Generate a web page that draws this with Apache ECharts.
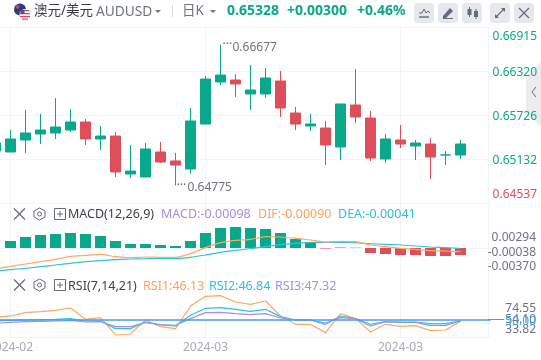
<!DOCTYPE html>
<html>
<head>
<meta charset="utf-8">
<style>
html,body{margin:0;padding:0;background:#fff;overflow:hidden}
#chart{width:541px;height:360px}
</style>
<script src="https://cdn.jsdelivr.net/npm/echarts@6/dist/echarts.min.js"></script>
</head>
<body>
<div id="chart"></div>
<script>
var xCategories = ['2024-02-12','2024-02-13','2024-02-14','2024-02-15','2024-02-16','2024-02-19','2024-02-20','2024-02-21','2024-02-22','2024-02-23','2024-02-26','2024-02-27','2024-02-28','2024-02-29','2024-03-01','2024-03-04','2024-03-05','2024-03-06','2024-03-07','2024-03-08','2024-03-11','2024-03-12','2024-03-13','2024-03-14','2024-03-15','2024-03-18','2024-03-19','2024-03-20','2024-03-21','2024-03-22','2024-03-25','2024-03-26','2024-03-27','2024-03-28'];
var markedIndexes = [1, 14, 27];

// open, close, low, high
var candles = [
    [0.65240,0.65348,0.65240,0.65348],[0.65226,0.65402,0.65226,0.65523],[0.65388,0.65483,0.65213,0.65794],
    [0.65469,0.65523,0.65334,0.65740],[0.65483,0.65564,0.65402,0.65956],[0.65523,0.65631,0.65496,0.65807],
    [0.65631,0.65402,0.65321,0.65672],[0.65402,0.65442,0.65253,0.65577],[0.65442,0.64956,0.64888,0.65496],
    [0.64929,0.64969,0.64875,0.65321],[0.64888,0.65267,0.64888,0.65348],[0.65226,0.65091,0.65078,0.65361],
    [0.65105,0.65050,0.64775,0.65213],[0.64996,0.65645,0.64929,0.65821],[0.65604,0.66212,0.65604,0.66253],
    [0.66172,0.66266,0.66131,0.66677],[0.66199,0.66145,0.65969,0.66280],[0.66010,0.66064,0.65794,0.66402],
    [0.66010,0.66226,0.65956,0.66361],[0.66185,0.65821,0.65699,0.66321],[0.65753,0.65604,0.65523,0.65834],
    [0.65577,0.65604,0.65510,0.65740],[0.65550,0.65321,0.65050,0.65645],[0.65294,0.65875,0.65118,0.65875],
    [0.65861,0.65699,0.65618,0.66348],[0.65685,0.65145,0.65105,0.65780],[0.65132,0.65402,0.65078,0.65469],
    [0.65388,0.65334,0.65280,0.65591],[0.65307,0.65348,0.65118,0.65388],[0.65334,0.65159,0.64861,0.65415],
    [0.65186,0.65187,0.65050,0.65240],[0.65186,0.65334,0.65132,0.65388]
];
var macdBars = [null,0.00164,0.00257,0.00304,0.00328,0.00351,0.00328,0.00281,0.00164,0.00094,0.00094,0.0007,0.00047,0.00164,0.00351,0.00468,0.00491,0.00468,0.00445,0.00351,0.00211,0.0014,-0.00012,0.00012,0.00007,-0.00117,-0.0014,-0.00164,-0.00164,-0.00187,-0.00187,-0.00164];
var difLine = [-0.00491,-0.00429,-0.00374,-0.0032,-0.00265,-0.00195,-0.00172,-0.00148,-0.00203,-0.00226,-0.00211,-0.00218,-0.00218,-0.00133,0.00008,0.00125,0.00179,0.00203,0.00265,0.00257,0.00226,0.00187,0.0014,0.00156,0.00148,0.0007,0.00031,-0.00008,-0.00031,-0.00062,-0.0007,-0.00086];
var deaLine = [-0.00538,-0.00507,-0.00476,-0.00437,-0.00398,-0.00359,-0.0032,-0.00296,-0.00273,-0.00257,-0.0025,-0.00242,-0.00242,-0.00218,-0.00164,-0.00101,-0.00055,-0.00016,0.00031,0.00078,0.00109,0.00133,0.00133,0.00133,0.00125,0.00101,0.00086,0.0007,0.00047,0.00023,0.00008,-0.00008];
var rsi1 = [53.75,56.26,62.51,64.39,66.89,71.27,50,53.13,20.59,22.47,48.75,36.23,32.48,75.03,93.17,94.42,82.54,78.16,84.41,56.26,40.61,40.61,24.97,60.64,51.25,26.22,40.61,36.86,38.11,28.73,29.98,46.13];
var rsi2 = [47.5,48.12,48.75,49.37,50,51.25,46.87,46.87,32.48,32.48,44.99,39.36,37.49,57.51,70.65,71.9,68.77,65.02,68.77,55.01,48.75,48.75,40.61,56.26,51.25,37.49,45.62,44.37,44.37,38.74,38.74,46.84];
var rsi3 = [42.49,44.37,45.62,46.25,46.87,48.12,44.99,45.62,36.23,36.23,43.74,39.99,38.74,51.25,62.51,63.14,60.64,58.76,60.64,52.5,48.75,48.75,43.12,53.13,51.25,40.61,45.62,44.99,44.99,41.87,41.87,47.32];

var mainTicks = [0.64537,0.65132,0.65726,0.66320,0.66915];
var macdTicks = [-0.00370,-0.00038,0.00294];
var rsiOuterTicks = [33.82,74.55];
var rsiInnerTick = 54.10;
var rsiMiddle = 50;
var highMark = 0.66677, highIndex = 15;
var lowMark = 0.64775, lowIndex = 12;

var UP = '#0aa88a', DOWN = '#dd4e5a', FRAME = '#f3f4f7', GRAY = '#6f7380', ICON = '#666b78';
var FONT = '"Noto Sans","Noto Sans CJK SC",sans-serif';
var ORANGE = '#ffa860', TEAL = '#2cc3dc', PURPLE = '#a78de8', BLUE = '#3f9ff0';
var RSI_MIN = 16.8, RSI_MAX = 136.9;

function isMarked(i){ return markedIndexes.indexOf(i) >= 0; }

function makeX(gridIndex, withLabel){
    return {
        type: 'category', gridIndex: gridIndex, data: xCategories, boundaryGap: false,
        axisLine: {show: true, lineStyle: {color: FRAME}},
        axisTick: {show: false},
        splitLine: {show: true, interval: function(i){ return isMarked(i); }, lineStyle: {color: FRAME}},
        axisLabel: {
            show: withLabel, interval: function(i){ return isMarked(i); },
            formatter: function(v){ return v.slice(0, 7); },
            color: '#a8aab5', fontSize: 12, fontFamily: FONT, margin: 5
        }
    };
}

// the RSI labels overlap on purpose, so each group gets its own axis or the library hides some
function makeRsiAxis(values, color, tick){
    return {
        type: 'value', gridIndex: 2, position: 'right', offset: -2.5, min: RSI_MIN, max: RSI_MAX,
        axisLine: {show: true, lineStyle: {color: FRAME}},
        axisTick: tick ? {show: true, customValues: values, length: 16, lineStyle: {color: BLUE}} : {show: false},
        splitLine: {show: false},
        axisLabel: {
            customValues: values, align: 'right', margin: 48, fontSize: 12, fontFamily: FONT, color: color,
            showMinLabel: true, showMaxLabel: true,
            formatter: function(v){ return '{v|' + v.toFixed(2) + '}'; },
            rich: {v: {color: color, fontSize: 12, fontFamily: FONT, padding: [4, 0, 0, 0]}}
        }
    };
}

function txt(x, y, text, color, size, weight){
    return {type: 'text', x: x, y: y, z: 5, silent: true,
        style: {text: text, fill: color, fontSize: size, fontWeight: weight || 'normal', fontFamily: FONT, textVerticalAlign: 'middle', verticalAlign: 'middle'}};
}
function ln(x1, y1, x2, y2, color, w){
    return {type: 'line', z: 6, silent: true, shape: {x1: x1, y1: y1, x2: x2, y2: y2}, style: {stroke: color, lineWidth: w || 1}};
}
function rect(x, y, w, h, fill, r, stroke){
    return {type: 'rect', z: 5, silent: true, shape: {x: x, y: y, width: w, height: h, r: r || 0}, style: {fill: fill, stroke: stroke || null, lineWidth: 1}};
}
function poly(points, fill, stroke, z, closed){
    return {type: closed === false ? 'polyline' : 'polygon', z: z || 6, silent: true, shape: {points: points}, style: {fill: fill, stroke: stroke || null, lineWidth: 1}};
}
function circle(cx, cy, r, fill){
    return {type: 'circle', z: 5, silent: true, shape: {cx: cx, cy: cy, r: r}, style: {fill: fill}};
}

// close, settings and collapse icons in front of a pane title
function paneIcons(cy){
    return [
        ln(14, cy - 5.5, 25, cy + 5.5, ICON, 1.2), ln(25, cy - 5.5, 14, cy + 5.5, ICON, 1.2),
        poly([[39.5, cy - 6], [45, cy - 3], [45, cy + 3], [39.5, cy + 6], [34, cy + 3], [34, cy - 3]], 'none', ICON, 6),
        {type: 'circle', z: 6, silent: true, shape: {cx: 39.5, cy: cy, r: 2}, style: {fill: 'none', stroke: ICON, lineWidth: 1}},
        rect(54.5, cy - 5.5, 11, 11, 'none', 0, ICON),
        ln(57, cy, 63, cy, ICON), ln(60, cy - 3, 60, cy + 3, ICON)
    ];
}

var graphics = [
    // flag
    circle(20, 9.5, 6, '#2a3f80'), circle(17.5, 7, 1.8, '#d8455a'), circle(22, 12, 0.9, '#ffffff'),
    circle(25, 14.5, 5.5, '#f4f4f6'),
    rect(21, 10, 8, 1.2, '#d8455a'), rect(20, 13, 10, 1.2, '#d8455a'), rect(20, 16, 10, 1.2, '#d8455a'), rect(22, 18.6, 6, 1.1, '#d8455a'),
    rect(20.5, 10, 4, 4, '#4a5a90'),
    txt(34, 11, '澳元/美元', '#3a3d46', 13.5),
    txt(96, 12, 'AUDUSD', GRAY, 13.7),
    poly([[155, 10], [161, 10], [158, 13]], GRAY),
    ln(172.5, 5, 172.5, 17, '#d5d8df'),
    txt(182, 11, '日K', GRAY, 13.5),
    poly([[210, 10], [216, 10], [213, 13]], GRAY),
    txt(227, 11.5, '0.65328', UP, 14, 'bold'),
    txt(287, 11.5, '+0.00300', UP, 14, 'bold'),
    txt(357, 11.5, '+0.46%', UP, 14, 'bold'),

    // toolbar buttons
    rect(414, 3, 20, 20, '#e6e8ef', 4), rect(438, 3, 20, 20, '#e6e8ef', 4), rect(462, 3, 20, 20, '#e6e8ef', 4),
    rect(490, 3, 20, 20, '#e6e8ef', 4), rect(514, 3, 20, 20, '#e6e8ef', 4),
    poly([[419, 13], [422, 13], [424, 9], [426, 13], [428, 11], [430, 13]], 'none', ICON, 6, false),
    ln(419, 17, 429, 17, ICON, 1.4),
    poly([[443, 16], [450, 8], [453, 11], [446, 18], [443, 18]], ICON),
    ln(443, 18.5, 453, 18.5, ICON, 1),
    rect(467.5, 9, 4, 6, ICON), ln(469.5, 7, 469.5, 17, ICON), rect(474, 11, 4, 6, ICON), ln(476, 9, 476, 19, ICON),
    ln(495.5, 17.5, 504.5, 8.5, ICON, 1.1), poly([[501, 8], [505, 8], [505, 12]], ICON), poly([[495, 14], [495, 18], [499, 18]], ICON),
    ln(519, 8, 529, 18, ICON, 1.2), ln(529, 8, 519, 18, ICON, 1.2),

    // side handle
    {type: 'polygon', z: 0, silent: true, shape: {points: [[526, 77], [541, 62], [541, 127], [526, 112]]}, style: {fill: '#ebebf0'}},
    poly([[536, 87], [532, 92], [536, 97]], 'none', ICON, 6, false),

    // pane titles
    txt(68, 214.5, 'MACD(12,26,9)', '#3e414a', 12.5),
    txt(161, 214.5, 'MACD:-0.00098', PURPLE, 12.5),
    txt(258, 214.5, 'DIF:-0.00090', '#ffa155', 12.5),
    txt(338, 214.5, 'DEA:-0.00041', '#2cbfdc', 12.5),
    txt(68, 286, 'RSI(7,14,21)', '#3e414a', 12.5),
    txt(143, 286, 'RSI1:46.13', '#ffa155', 12.5),
    txt(209, 286, 'RSI2:46.84', '#2cbfdc', 12.5),
    txt(275, 286, 'RSI3:47.32', PURPLE, 12.5)
].concat(paneIcons(214)).concat(paneIcons(285));

function pointLabel(text, dx, dy, color){
    return {show: true, position: 'right', distance: 0, offset: [dx, dy], formatter: text, color: color, fontSize: 12, fontFamily: FONT};
}

var chart = echarts.init(document.getElementById('chart'), null, {renderer: 'canvas'});

var option = {
    animation: false,
    backgroundColor: '#ffffff',
    graphic: {elements: graphics},
    grid: [
        {left: -4.5, width: 495, top: 27, height: 176, outerBoundsMode: 'none'},
        {left: -4.5, width: 495, top: 203, height: 70, outerBoundsMode: 'none'},
        {left: -4.5, width: 495, top: 273, height: 64, outerBoundsMode: 'none'}
    ],
    xAxis: [makeX(0, false), makeX(1, false), makeX(2, true)],
    yAxis: [
        {
            type: 'value', gridIndex: 0, position: 'right', offset: -2.5, scale: true,
            min: mainTicks[0], max: mainTicks[mainTicks.length - 1],
            axisLine: {show: true, lineStyle: {color: FRAME}},
            axisTick: {show: false, customValues: mainTicks},
            splitLine: {show: true, lineStyle: {color: FRAME}},
            axisLabel: {
                customValues: mainTicks, align: 'right', margin: 49, fontSize: 12, fontFamily: FONT,
                showMinLabel: true, showMaxLabel: true, padding: [4, 0, 0, 0],
                verticalAlignMinLabel: 'bottom', verticalAlignMaxLabel: 'top',
                formatter: function(v){ return v === mainTicks[0] ? '{low|' + v.toFixed(5) + '}' : v.toFixed(5); },
                color: UP,
                rich: {low: {color: DOWN, fontSize: 12, fontFamily: FONT, padding: [0, 0, 2, 0]}}
            }
        },
        {
            type: 'value', gridIndex: 1, position: 'right', offset: -2.5, min: -0.00585, max: 0.01053,
            axisLine: {show: true, lineStyle: {color: FRAME}},
            axisTick: {show: false, customValues: macdTicks},
            splitLine: {show: false},
            axisLabel: {
                customValues: macdTicks, align: 'right', margin: 48, fontSize: 12, fontFamily: FONT, color: GRAY,
                showMinLabel: true, showMaxLabel: true,
                formatter: function(v){ return '{v|' + v.toFixed(5) + '}'; },
                rich: {v: {color: GRAY, fontSize: 12, fontFamily: FONT, padding: [5, 0, 0, 0]}}
            }
        },
        makeRsiAxis(rsiOuterTicks, GRAY, false),
        makeRsiAxis([rsiInnerTick], GRAY, false),
        makeRsiAxis([rsiMiddle], BLUE, true)
    ],
    series: [
        {
            type: 'candlestick', xAxisIndex: 0, yAxisIndex: 0, data: candles, barWidth: 11,
            itemStyle: {color: UP, color0: DOWN, borderColor: UP, borderColor0: DOWN, borderColorDoji: UP, borderWidth: 1},
            markPoint: {
                symbol: 'circle', symbolSize: 0, silent: true, animation: false,
                data: [
                    {coord: [xCategories[highIndex], highMark], label: pointLabel('···', 2, 0, '#666b78')},
                    {coord: [xCategories[highIndex], highMark], label: pointLabel(highMark.toFixed(5), 12, 3, GRAY)},
                    {coord: [xCategories[lowIndex], lowMark], label: pointLabel('···', 1, 0, '#666b78')},
                    {coord: [xCategories[lowIndex], lowMark], label: pointLabel(lowMark.toFixed(5), 12, 2, GRAY)}
                ]
            }
        },
        {
            type: 'bar', xAxisIndex: 1, yAxisIndex: 1, data: macdBars, barWidth: 11,
            itemStyle: {color: function(p){ return p.value < 0 ? DOWN : UP; }}
        },
        {type: 'line', xAxisIndex: 1, yAxisIndex: 1, data: deaLine, showSymbol: false, smooth: 0.2, lineStyle: {color: TEAL, width: 1.2}},
        {type: 'line', xAxisIndex: 1, yAxisIndex: 1, data: difLine, showSymbol: false, smooth: 0.2, lineStyle: {color: ORANGE, width: 1.2}},
        {type: 'line', xAxisIndex: 2, yAxisIndex: 2, data: rsi1, showSymbol: false, lineStyle: {color: ORANGE, width: 1.2}},
        {type: 'line', xAxisIndex: 2, yAxisIndex: 2, data: rsi2, showSymbol: false, lineStyle: {color: TEAL, width: 1.2}},
        {
            type: 'line', xAxisIndex: 2, yAxisIndex: 2, data: rsi3, showSymbol: false, z: 3, lineStyle: {color: PURPLE, width: 1.2},
            markLine: {
                silent: true, symbol: 'none', animation: false, label: {show: false},
                lineStyle: {color: BLUE, width: 1.5, type: 'solid', opacity: 1},
                data: [{yAxis: rsiMiddle}]
            }
        }
    ]
};

chart.setOption(option);
</script>
</body>
</html>
